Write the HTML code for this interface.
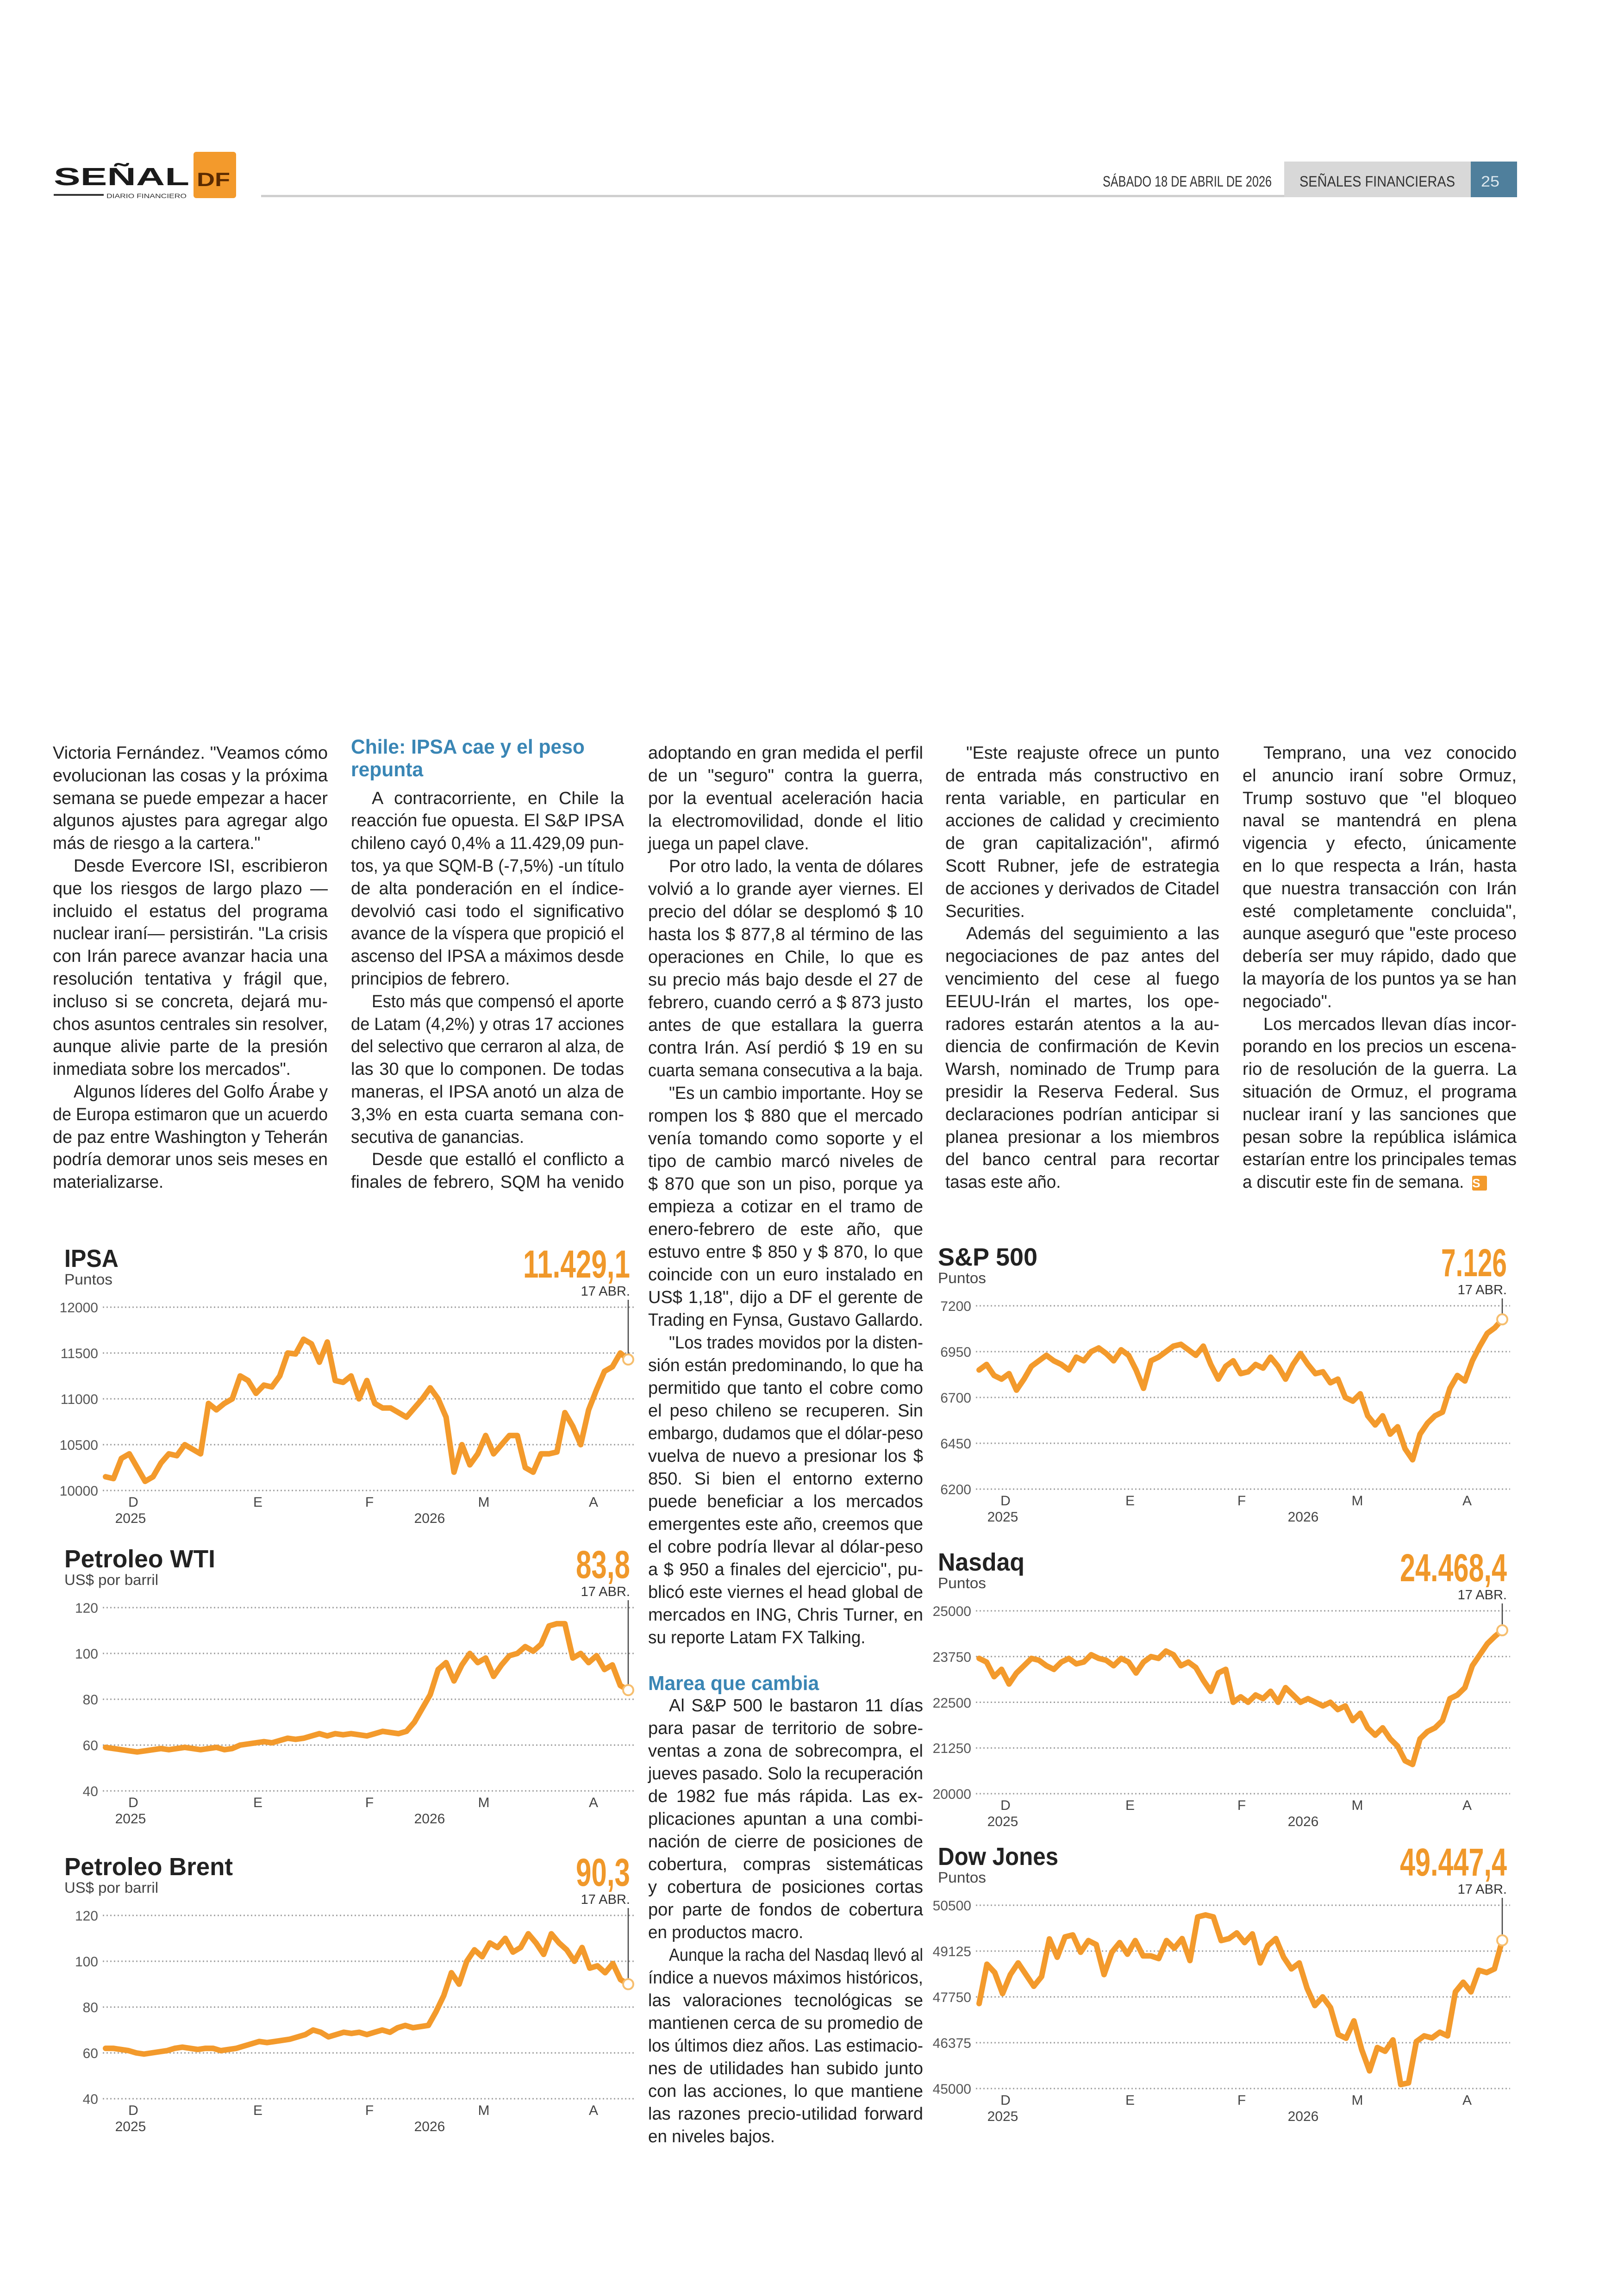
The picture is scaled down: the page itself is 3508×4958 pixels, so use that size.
<!DOCTYPE html>
<html><head><meta charset="utf-8">
<style>
html,body{margin:0;padding:0;background:#fff;}
body{width:3508px;height:4958px;position:relative;overflow:hidden;font-family:"Liberation Sans Narrow","Liberation Sans",sans-serif;color:#222;}
.col{position:absolute;top:1603px;font-size:38px;}
.ln{height:48.8px;line-height:48.8px;text-align:justify;text-align-last:justify;overflow:visible;}
.col3 .ln{height:49px;line-height:49px;}
.ln.i{padding-left:45px;}
.ln.e{text-align:left;text-align-last:left;}
.ln span{white-space:nowrap;}
.hd{color:#3a86b5;font-weight:bold;font-family:"Liberation Sans",sans-serif;font-size:44px;text-align:left;text-align-last:left;}
svg text{font-family:"Liberation Sans Narrow","Liberation Sans",sans-serif;}
</style></head><body>

<svg id="sv" width="3508" height="4958" style="position:absolute;left:0;top:0" xmlns="http://www.w3.org/2000/svg">
<!-- header -->
<text x="116" y="400" font-size="54" font-weight="bold" fill="#1a1a1a" textLength="293" lengthAdjust="spacingAndGlyphs">SEÑAL</text>
<rect x="418" y="328" width="92" height="100" rx="6" fill="#F39A2C"/>
<text x="425" y="402" font-size="42" font-weight="bold" fill="#5a2a00" textLength="72" lengthAdjust="spacingAndGlyphs">DF</text>
<rect x="116" y="419" width="108" height="4" fill="#333"/>
<text x="230" y="428" font-size="14" fill="#333" textLength="173" lengthAdjust="spacingAndGlyphs">DIARIO FINANCIERO</text>
<rect x="564" y="421" width="2210" height="5" fill="#cfcfcf"/>
<text x="2382" y="403" font-size="32" fill="#333" textLength="365" lengthAdjust="spacingAndGlyphs">SÁBADO 18 DE ABRIL DE 2026</text>
<rect x="2774" y="349" width="403" height="77" fill="#d8d8d8"/>
<text x="2807" y="403" font-size="32" fill="#333" textLength="336" lengthAdjust="spacingAndGlyphs">SEÑALES FINANCIERAS</text>
<rect x="3177" y="349" width="100" height="77" fill="#4f7f9c"/>
<text x="3199" y="403" font-size="32" fill="#dde8ef" textLength="40" lengthAdjust="spacingAndGlyphs">25</text>

<g id="charts"></g>

<g fill="#222" font-weight="bold" font-size="54">
<text x="139" y="2737" textLength="117" lengthAdjust="spacingAndGlyphs">IPSA</text>
<text x="139" y="3386" textLength="326" lengthAdjust="spacingAndGlyphs">Petroleo WTI</text>
<text x="139" y="4051" textLength="364" lengthAdjust="spacingAndGlyphs">Petroleo Brent</text>
<text x="2026" y="2734" textLength="215" lengthAdjust="spacingAndGlyphs">S&amp;P 500</text>
<text x="2026" y="3393" textLength="187" lengthAdjust="spacingAndGlyphs">Nasdaq</text>
<text x="2026" y="4029" textLength="260" lengthAdjust="spacingAndGlyphs">Dow Jones</text>
</g>
<g fill="#444" font-size="32">
<text x="139" y="2775" textLength="104" lengthAdjust="spacingAndGlyphs">Puntos</text>
<text x="139" y="3424" textLength="203" lengthAdjust="spacingAndGlyphs">US$ por barril</text>
<text x="139" y="4089" textLength="203" lengthAdjust="spacingAndGlyphs">US$ por barril</text>
<text x="2026" y="2772" textLength="104" lengthAdjust="spacingAndGlyphs">Puntos</text>
<text x="2026" y="3431" textLength="104" lengthAdjust="spacingAndGlyphs">Puntos</text>
<text x="2026" y="4067" textLength="104" lengthAdjust="spacingAndGlyphs">Puntos</text>
</g>
<g fill="#F0982A" font-weight="bold" font-size="84" text-anchor="end">
<text x="1361" y="2760" textLength="231" lengthAdjust="spacingAndGlyphs">11.429,1</text>
<text x="1361" y="3409" textLength="117" lengthAdjust="spacingAndGlyphs">83,8</text>
<text x="1361" y="4074" textLength="117" lengthAdjust="spacingAndGlyphs">90,3</text>
<text x="3255" y="2757" textLength="142" lengthAdjust="spacingAndGlyphs">7.126</text>
<text x="3255" y="3416" textLength="231" lengthAdjust="spacingAndGlyphs">24.468,4</text>
<text x="3255" y="4052" textLength="231" lengthAdjust="spacingAndGlyphs">49.447,4</text>
</g>
<g fill="#333" font-size="29" text-anchor="end">
<text x="1361" y="2799">17 ABR.</text>
<text x="1361" y="3448">17 ABR.</text>
<text x="1361" y="4113">17 ABR.</text>
<text x="3255" y="2796">17 ABR.</text>
<text x="3255" y="3455">17 ABR.</text>
<text x="3255" y="4091">17 ABR.</text>
</g>
<g fill="#555" font-size="30" text-anchor="end">
<text x="212" y="2835">12000</text><text x="212" y="2934">11500</text><text x="212" y="3033">11000</text><text x="212" y="3132">10500</text><text x="212" y="3231">10000</text>
<text x="212" y="3484">120</text><text x="212" y="3583">100</text><text x="212" y="3682">80</text><text x="212" y="3781">60</text><text x="212" y="3880">40</text>
<text x="212" y="4149">120</text><text x="212" y="4248">100</text><text x="212" y="4347">80</text><text x="212" y="4446">60</text><text x="212" y="4545">40</text>
<text x="2098" y="2832">7200</text><text x="2098" y="2931">6950</text><text x="2098" y="3030">6700</text><text x="2098" y="3129">6450</text><text x="2098" y="3228">6200</text>
<text x="2098" y="3491">25000</text><text x="2098" y="3590">23750</text><text x="2098" y="3689">22500</text><text x="2098" y="3787">21250</text><text x="2098" y="3886">20000</text>
<text x="2098" y="4127">50500</text><text x="2098" y="4226">49125</text><text x="2098" y="4325">47750</text><text x="2098" y="4424">46375</text><text x="2098" y="4523">45000</text>
</g>
<g fill="#444" font-size="30" text-anchor="middle">
<text x="288" y="3255">D</text><text x="557" y="3255">E</text><text x="798" y="3255">F</text><text x="1045" y="3255">M</text><text x="1282" y="3255">A</text>
<text x="282" y="3290">2025</text><text x="928" y="3290">2026</text>
<text x="288" y="3904">D</text><text x="557" y="3904">E</text><text x="798" y="3904">F</text><text x="1045" y="3904">M</text><text x="1282" y="3904">A</text>
<text x="282" y="3939">2025</text><text x="928" y="3939">2026</text>
<text x="288" y="4569">D</text><text x="557" y="4569">E</text><text x="798" y="4569">F</text><text x="1045" y="4569">M</text><text x="1282" y="4569">A</text>
<text x="282" y="4604">2025</text><text x="928" y="4604">2026</text>
<text x="2172" y="3252">D</text><text x="2441" y="3252">E</text><text x="2682" y="3252">F</text><text x="2932" y="3252">M</text><text x="3169" y="3252">A</text>
<text x="2166" y="3287">2025</text><text x="2815" y="3287">2026</text>
<text x="2172" y="3910">D</text><text x="2441" y="3910">E</text><text x="2682" y="3910">F</text><text x="2932" y="3910">M</text><text x="3169" y="3910">A</text>
<text x="2166" y="3945">2025</text><text x="2815" y="3945">2026</text>
<text x="2172" y="4547">D</text><text x="2441" y="4547">E</text><text x="2682" y="4547">F</text><text x="2932" y="4547">M</text><text x="3169" y="4547">A</text>
<text x="2166" y="4582">2025</text><text x="2815" y="4582">2026</text>
</g>
</svg>

<div class="col" style="left:114px;width:594px">
<div class="ln"><span>Victoria Fernández. "Veamos cómo</span></div>
<div class="ln"><span>evolucionan las cosas y la próxima</span></div>
<div class="ln"><span>semana se puede empezar a hacer</span></div>
<div class="ln"><span>algunos ajustes para agregar algo</span></div>
<div class="ln e"><span>más de riesgo a la cartera."</span></div>
<div class="ln i"><span>Desde Evercore ISI, escribieron</span></div>
<div class="ln"><span>que los riesgos de largo plazo —</span></div>
<div class="ln"><span>incluido el estatus del programa</span></div>
<div class="ln"><span>nuclear iraní— persistirán. "La crisis</span></div>
<div class="ln"><span>con Irán parece avanzar hacia una</span></div>
<div class="ln"><span>resolución tentativa y frágil que,</span></div>
<div class="ln"><span>incluso si se concreta, dejará mu-</span></div>
<div class="ln"><span>chos asuntos centrales sin resolver,</span></div>
<div class="ln"><span>aunque alivie parte de la presión</span></div>
<div class="ln e"><span>inmediata sobre los mercados".</span></div>
<div class="ln i"><span>Algunos líderes del Golfo Árabe y</span></div>
<div class="ln"><span>de Europa estimaron que un acuerdo</span></div>
<div class="ln"><span>de paz entre Washington y Teherán</span></div>
<div class="ln"><span>podría demorar unos seis meses en</span></div>
<div class="ln e"><span>materializarse.</span></div>
</div>

<div class="col" style="left:758px;width:590px;top:1590px">
<div class="ln hd"><span>Chile: IPSA cae y el peso</span></div>
<div class="ln hd" style="margin-bottom:13px"><span>repunta</span></div>
<div class="ln i"><span>A contracorriente, en Chile la</span></div>
<div class="ln"><span>reacción fue opuesta. El S&amp;P IPSA</span></div>
<div class="ln"><span>chileno cayó 0,4% a 11.429,09 pun-</span></div>
<div class="ln"><span>tos, ya que SQM-B (-7,5%) -un título</span></div>
<div class="ln"><span>de alta ponderación en el índice-</span></div>
<div class="ln"><span>devolvió casi todo el significativo</span></div>
<div class="ln"><span>avance de la víspera que propició el</span></div>
<div class="ln"><span>ascenso del IPSA a máximos desde</span></div>
<div class="ln e"><span>principios de febrero.</span></div>
<div class="ln i"><span>Esto más que compensó el aporte</span></div>
<div class="ln"><span>de Latam (4,2%) y otras 17 acciones</span></div>
<div class="ln"><span>del selectivo que cerraron al alza, de</span></div>
<div class="ln"><span>las 30 que lo componen. De todas</span></div>
<div class="ln"><span>maneras, el IPSA anotó un alza de</span></div>
<div class="ln"><span>3,3% en esta cuarta semana con-</span></div>
<div class="ln e"><span>secutiva de ganancias.</span></div>
<div class="ln i"><span>Desde que estalló el conflicto a</span></div>
<div class="ln"><span>finales de febrero, SQM ha venido</span></div>
</div>

<div class="col col3" style="left:1400px;width:594px">
<div class="ln"><span>adoptando en gran medida el perfil</span></div>
<div class="ln"><span>de un "seguro" contra la guerra,</span></div>
<div class="ln"><span>por la eventual aceleración hacia</span></div>
<div class="ln"><span>la electromovilidad, donde el litio</span></div>
<div class="ln e"><span>juega un papel clave.</span></div>
<div class="ln i"><span>Por otro lado, la venta de dólares</span></div>
<div class="ln"><span>volvió a lo grande ayer viernes. El</span></div>
<div class="ln"><span>precio del dólar se desplomó $ 10</span></div>
<div class="ln"><span>hasta los $ 877,8 al término de las</span></div>
<div class="ln"><span>operaciones en Chile, lo que es</span></div>
<div class="ln"><span>su precio más bajo desde el 27 de</span></div>
<div class="ln"><span>febrero, cuando cerró a $ 873 justo</span></div>
<div class="ln"><span>antes de que estallara la guerra</span></div>
<div class="ln"><span>contra Irán. Así perdió $ 19 en su</span></div>
<div class="ln"><span>cuarta semana consecutiva a la baja.</span></div>
<div class="ln i"><span>"Es un cambio importante. Hoy se</span></div>
<div class="ln"><span>rompen los $ 880 que el mercado</span></div>
<div class="ln"><span>venía tomando como soporte y el</span></div>
<div class="ln"><span>tipo de cambio marcó niveles de</span></div>
<div class="ln"><span>$ 870 que son un piso, porque ya</span></div>
<div class="ln"><span>empieza a cotizar en el tramo de</span></div>
<div class="ln"><span>enero-febrero de este año, que</span></div>
<div class="ln"><span>estuvo entre $ 850 y $ 870, lo que</span></div>
<div class="ln"><span>coincide con un euro instalado en</span></div>
<div class="ln"><span>US$ 1,18", dijo a DF el gerente de</span></div>
<div class="ln"><span>Trading en Fynsa, Gustavo Gallardo.</span></div>
<div class="ln i"><span>"Los trades movidos por la disten-</span></div>
<div class="ln"><span>sión están predominando, lo que ha</span></div>
<div class="ln"><span>permitido que tanto el cobre como</span></div>
<div class="ln"><span>el peso chileno se recuperen. Sin</span></div>
<div class="ln"><span>embargo, dudamos que el dólar-peso</span></div>
<div class="ln"><span>vuelva de nuevo a presionar los $</span></div>
<div class="ln"><span>850. Si bien el entorno externo</span></div>
<div class="ln"><span>puede beneficiar a los mercados</span></div>
<div class="ln"><span>emergentes este año, creemos que</span></div>
<div class="ln"><span>el cobre podría llevar al dólar-peso</span></div>
<div class="ln"><span>a $ 950 a finales del ejercicio", pu-</span></div>
<div class="ln"><span>blicó este viernes el head global de</span></div>
<div class="ln"><span>mercados en ING, Chris Turner, en</span></div>
<div class="ln e"><span>su reporte Latam FX Talking.</span></div>
<div class="ln e"><span>&nbsp;</span></div>
<div class="ln hd"><span>Marea que cambia</span></div>
<div class="ln i"><span>Al S&amp;P 500 le bastaron 11 días</span></div>
<div class="ln"><span>para pasar de territorio de sobre-</span></div>
<div class="ln"><span>ventas a zona de sobrecompra, el</span></div>
<div class="ln"><span>jueves pasado. Solo la recuperación</span></div>
<div class="ln"><span>de 1982 fue más rápida. Las ex-</span></div>
<div class="ln"><span>plicaciones apuntan a una combi-</span></div>
<div class="ln"><span>nación de cierre de posiciones de</span></div>
<div class="ln"><span>cobertura, compras sistemáticas</span></div>
<div class="ln"><span>y cobertura de posiciones cortas</span></div>
<div class="ln"><span>por parte de fondos de cobertura</span></div>
<div class="ln e"><span>en productos macro.</span></div>
<div class="ln i"><span>Aunque la racha del Nasdaq llevó al</span></div>
<div class="ln"><span>índice a nuevos máximos históricos,</span></div>
<div class="ln"><span>las valoraciones tecnológicas se</span></div>
<div class="ln"><span>mantienen cerca de su promedio de</span></div>
<div class="ln"><span>los últimos diez años. Las estimacio-</span></div>
<div class="ln"><span>nes de utilidades han subido junto</span></div>
<div class="ln"><span>con las acciones, lo que mantiene</span></div>
<div class="ln"><span>las razones precio-utilidad forward</span></div>
<div class="ln e"><span>en niveles bajos.</span></div>
</div>

<div class="col" style="left:2042px;width:592px">
<div class="ln i"><span>"Este reajuste ofrece un punto</span></div>
<div class="ln"><span>de entrada más constructivo en</span></div>
<div class="ln"><span>renta variable, en particular en</span></div>
<div class="ln"><span>acciones de calidad y crecimiento</span></div>
<div class="ln"><span>de gran capitalización", afirmó</span></div>
<div class="ln"><span>Scott Rubner, jefe de estrategia</span></div>
<div class="ln"><span>de acciones y derivados de Citadel</span></div>
<div class="ln e"><span>Securities.</span></div>
<div class="ln i"><span>Además del seguimiento a las</span></div>
<div class="ln"><span>negociaciones de paz antes del</span></div>
<div class="ln"><span>vencimiento del cese al fuego</span></div>
<div class="ln"><span>EEUU-Irán el martes, los ope-</span></div>
<div class="ln"><span>radores estarán atentos a la au-</span></div>
<div class="ln"><span>diencia de confirmación de Kevin</span></div>
<div class="ln"><span>Warsh, nominado de Trump para</span></div>
<div class="ln"><span>presidir la Reserva Federal. Sus</span></div>
<div class="ln"><span>declaraciones podrían anticipar si</span></div>
<div class="ln"><span>planea presionar a los miembros</span></div>
<div class="ln"><span>del banco central para recortar</span></div>
<div class="ln e"><span>tasas este año.</span></div>
</div>

<div class="col" style="left:2684px;width:592px">
<div class="ln i"><span>Temprano, una vez conocido</span></div>
<div class="ln"><span>el anuncio iraní sobre Ormuz,</span></div>
<div class="ln"><span>Trump sostuvo que "el bloqueo</span></div>
<div class="ln"><span>naval se mantendrá en plena</span></div>
<div class="ln"><span>vigencia y efecto, únicamente</span></div>
<div class="ln"><span>en lo que respecta a Irán, hasta</span></div>
<div class="ln"><span>que nuestra transacción con Irán</span></div>
<div class="ln"><span>esté completamente concluida",</span></div>
<div class="ln"><span>aunque aseguró que "este proceso</span></div>
<div class="ln"><span>debería ser muy rápido, dado que</span></div>
<div class="ln"><span>la mayoría de los puntos ya se han</span></div>
<div class="ln e"><span>negociado".</span></div>
<div class="ln i"><span>Los mercados llevan días incor-</span></div>
<div class="ln"><span>porando en los precios un escena-</span></div>
<div class="ln"><span>rio de resolución de la guerra. La</span></div>
<div class="ln"><span>situación de Ormuz, el programa</span></div>
<div class="ln"><span>nuclear iraní y las sanciones que</span></div>
<div class="ln"><span>pesan sobre la república islámica</span></div>
<div class="ln"><span>estarían entre los principales temas</span></div>
<div class="ln e"><span>a discutir este fin de semana.</span><b style="display:inline-block;width:32px;height:32px;background:#F39A2C;color:#fff;font-size:26px;line-height:32px;text-align:center;vertical-align:middle;border-radius:3px;margin-left:2px">S</b></div>
</div>

<script>
(function(){
  var scales=[];
  document.querySelectorAll('.ln').forEach(function(d){
    var s=d.querySelector('span'); if(!s) return;
    s.style.display='inline-block';
    var w=s.getBoundingClientRect().width;
    var cs=getComputedStyle(d);
    var W=d.clientWidth-parseFloat(cs.paddingLeft)-parseFloat(cs.paddingRight);
    if(d.classList.contains('e')||d.classList.contains('hd')){ d._w=w; d._W=W; return; }
    if(w>W){ var k=W/w; scales.push(k); s.style.transform='scaleX('+k+')'; s.style.transformOrigin='left center'; }
    else { s.style.display='inline'; }
  });
  var avg=1; if(scales.length){avg=scales.reduce(function(a,b){return a+b},0)/scales.length;}
  document.querySelectorAll('.ln.e,.ln.hd').forEach(function(d){
    var s=d.querySelector('span'); if(!s||d._w===undefined) return;
    var k=Math.min(avg,d._W/d._w);
    if(k<1){ s.style.transform='scaleX('+k+')'; s.style.transformOrigin='left center'; }
  });

  var NS='http://www.w3.org/2000/svg', g=document.getElementById('charts');
  function el(n,a){var e=document.createElementNS(NS,n);for(var k in a)e.setAttribute(k,a[k]);g.appendChild(e);return e;}
  var L={g1:222,g2:1370,x1:228,x2:1357}, R={g1:2108,g2:3262,x1:2115,x2:3245};
  var C=[
   [L,2824,3220,10000,12000,[10150,10130,10350,10400,10250,10100,10150,10300,10400,10380,10500,10450,10400,10950,10880,10950,11000,11250,11200,11060,11150,11130,11250,11500,11490,11650,11600,11400,11620,11200,11180,11250,11000,11200,10950,10900,10900,10850,10800,10900,11000,11120,11000,10800,10200,10500,10280,10400,10600,10400,10500,10600,10600,10250,10200,10400,10400,10420,10850,10700,10500,10880,11100,11300,11350,11500,11429]],
   [L,3473,3869,40,120,[59,58.5,58,57.5,57,57.5,58,58.5,58,58.5,59,58.5,58,58.5,59,58,58.5,60,60.5,61,61.5,61,62,63,62.5,63,64,65,64,65,64.5,65,64.5,64,65,66,65.5,65,66,70,76,82,93,96,88,95,100,96,98,90,95,99,100,103,101,104,112,113,113,98,100,96,99,93,95,86,84]],
   [L,4138,4534,40,120,[62,62,61.5,61,60,59.5,60,60.5,61,62,62.5,62,61.5,62,62,61,61.5,62,63,64,65,64.5,65,65.5,66,67,68,70,69,67,68,69,68.5,69,68,69,70,69,71,72,71,71.5,72,78,85,95,90,100,105,102,108,106,110,104,106,112,108,103,112,108,105,100,106,97,98,95,99,92,90]],
   [R,2821,3217,6200,7200,[6850,6880,6820,6800,6830,6740,6800,6870,6900,6930,6900,6880,6850,6920,6900,6950,6970,6940,6900,6960,6930,6850,6750,6900,6920,6950,6980,6990,6960,6930,6980,6880,6800,6870,6900,6830,6840,6880,6860,6920,6870,6800,6880,6940,6880,6830,6840,6780,6800,6700,6680,6720,6600,6550,6600,6500,6540,6420,6360,6500,6560,6600,6620,6750,6820,6790,6900,6980,7050,7080,7126]],
   [R,3480,3875,20000,25000,[23700,23600,23200,23400,23000,23300,23500,23700,23650,23500,23400,23600,23700,23550,23600,23800,23700,23650,23500,23700,23600,23300,23600,23750,23700,23900,23800,23500,23600,23450,23100,22800,23300,23400,22500,22650,22500,22700,22600,22800,22500,22900,22700,22500,22600,22500,22400,22500,22300,22400,22000,22200,21800,21600,21800,21500,21300,20900,20800,21500,21700,21800,22000,22600,22700,22900,23500,23800,24100,24300,24468]],
   [R,4116,4512,45000,50500,[47550,48730,48480,47850,48420,48770,48420,48070,48360,49490,48940,49550,49610,49090,49440,49320,48420,49090,49380,49030,49440,48980,48980,48900,49440,49210,49500,48840,50150,50210,50150,49440,49500,49670,49380,49640,48770,49290,49500,48940,48590,48770,48010,47490,47750,47430,46620,46510,47030,46170,45530,46230,46120,46460,45120,45170,46410,46580,46520,46690,46580,47900,48190,47900,48550,48480,48590,49447]]
  ];
  C.forEach(function(c){
    var P=c[0],T=c[1],B=c[2],mn=c[3],mx=c[4],d=c[5];
    for(var i=0;i<5;i++){var y=T+(B-T)*i/4; el('line',{x1:P.g1,x2:P.g2,y1:y,y2:y,stroke:'#a0a0a0','stroke-width':3,'stroke-dasharray':'3 5'});}
    var pts=[],n=d.length;
    for(var j=0;j<n;j++){var x=P.x1+(P.x2-P.x1)*j/(n-1);var y=B-(d[j]-mn)/(mx-mn)*(B-T);pts.push(x.toFixed(1)+','+y.toFixed(1));}
    el('polyline',{points:pts.join(' '),fill:'none',stroke:'#F39A2C','stroke-width':12,'stroke-linejoin':'round','stroke-linecap':'round'});
    var ey=B-(d[n-1]-mn)/(mx-mn)*(B-T);
    el('line',{x1:P.x2,x2:P.x2,y1:T-16,y2:ey-11,stroke:'#444','stroke-width':2.5});
    el('circle',{cx:P.x2,cy:ey,r:11,fill:'#fff',stroke:'#F6BE6E','stroke-width':4});
  });
})();
</script>
</body></html>
